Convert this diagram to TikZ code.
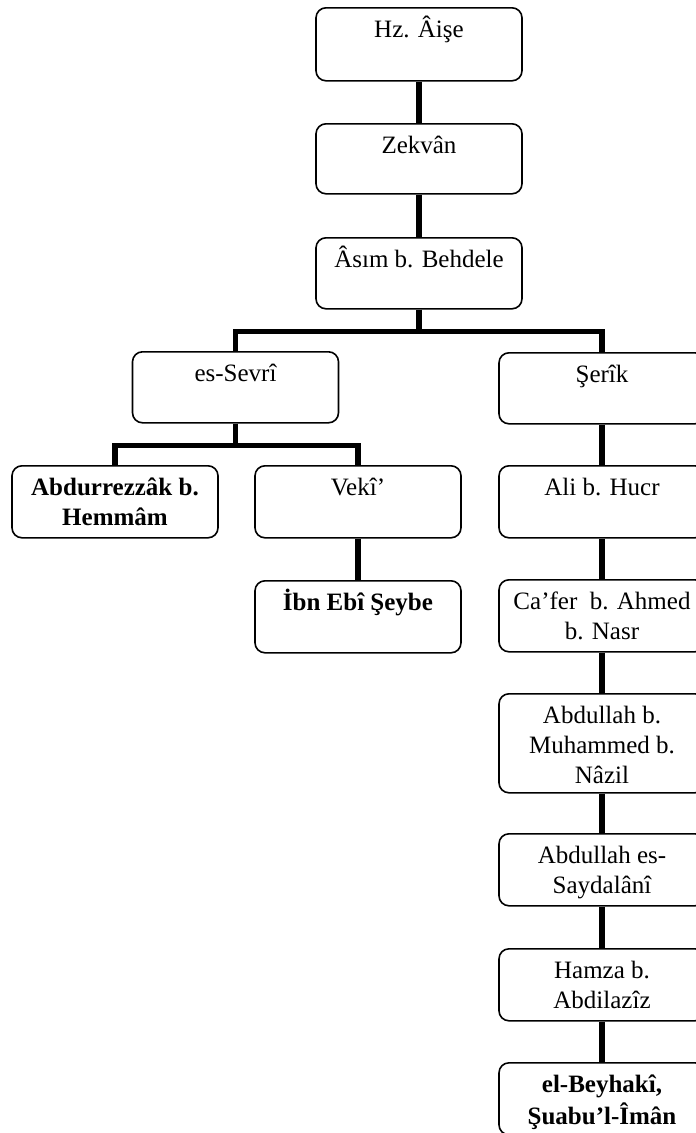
\documentclass[tikz,border=0pt]{standalone}
\usepackage{fontspec}
\setmainfont{Liberation Serif}
% top-aligned, centred cell text; #1 = outer box height in pt
\newcommand{\cellbox}[2]{\parbox[t][\dimexpr#1pt-12pt\relax][t]{196pt}{\centering\rule[-9pt]{0pt}{33pt}#2}}
\tikzset{
  nbox/.style={draw, line width=1.6pt, rounded corners=10pt, inner xsep=5pt,
    inner ysep=6pt, anchor=north, font=\fontsize{25}{30}\selectfont},
  link/.style={line width=5.5pt, line join=miter}
}
\begin{document}
\begin{tikzpicture}[x=1pt, y=-1pt]
\useasboundingbox (0,0) rectangle (696,1133);
\clip (0,0) rectangle (696,1133);

% chain of narrators
\node[nbox] (hz)    at (419,7)    {\cellbox{73}{Hz. Âişe}};
\node[nbox] (zek)   at (419,123)  {\cellbox{70}{Zekvân}};
\node[nbox] (asim)  at (419,237)  {\cellbox{71}{Âsım b. Behdele}};
\node[nbox] (sevri) at (235.5,351){\cellbox{71}{es-Sevrî}};
\node[nbox] (serik) at (602,352)  {\cellbox{71}{Şerîk}};
\node[nbox] (abdr)  at (115,465)  {\cellbox{72}{\bfseries Abdurrezzâk b.\\ Hemmâm}};
\node[nbox] (veki)  at (358,465)  {\cellbox{72}{Vekî’}};
\node[nbox] (ali)   at (602,465)  {\cellbox{72}{Ali b. Hucr}};
\node[nbox] (ibn)   at (358,580)  {\cellbox{72}{\bfseries İbn Ebî Şeybe}};
\node[nbox] (cafer) at (602,579)  {\cellbox{72}{Ca’fer~ b. Ahmed\\ b. Nasr}};
\node[nbox] (abdm)  at (602,693)  {\cellbox{99}{Abdullah b.\\ Muhammed b.\\ Nâzil}};
\node[nbox] (abds)  at (602,833)  {\cellbox{72}{Abdullah es-\\ Saydalânî}};
\node[nbox] (hamza) at (602,948)  {\cellbox{72}{Hamza b.\\ Abdilazîz}};
\node[nbox] (beyh)  at (602,1062) {\cellbox{72}{\bfseries el-Beyhakî,\\ Şuabu’l-Îmân}};

% connectors
\draw[link] (hz.south) -- (zek.north);
\draw[link] (zek.south) -- (asim.north);
\draw[link] (asim.south) -- ++(0,22) -| (sevri.north);
\draw[link] (asim.south) -- ++(0,22) -| (serik.north);
\draw[link] (sevri.south) -- ++(0,22) -| (abdr.north);
\draw[link] (sevri.south) -- ++(0,22) -| (veki.north);
\draw[link] (veki.south) -- (ibn.north);
\draw[link] (serik.south) -- (ali.north);
\draw[link] (ali.south) -- (cafer.north);
\draw[link] (cafer.south) -- (abdm.north);
\draw[link] (abdm.south) -- (abds.north);
\draw[link] (abds.south) -- (hamza.north);
\draw[link] (hamza.south) -- (beyh.north);
\end{tikzpicture}
\end{document}
